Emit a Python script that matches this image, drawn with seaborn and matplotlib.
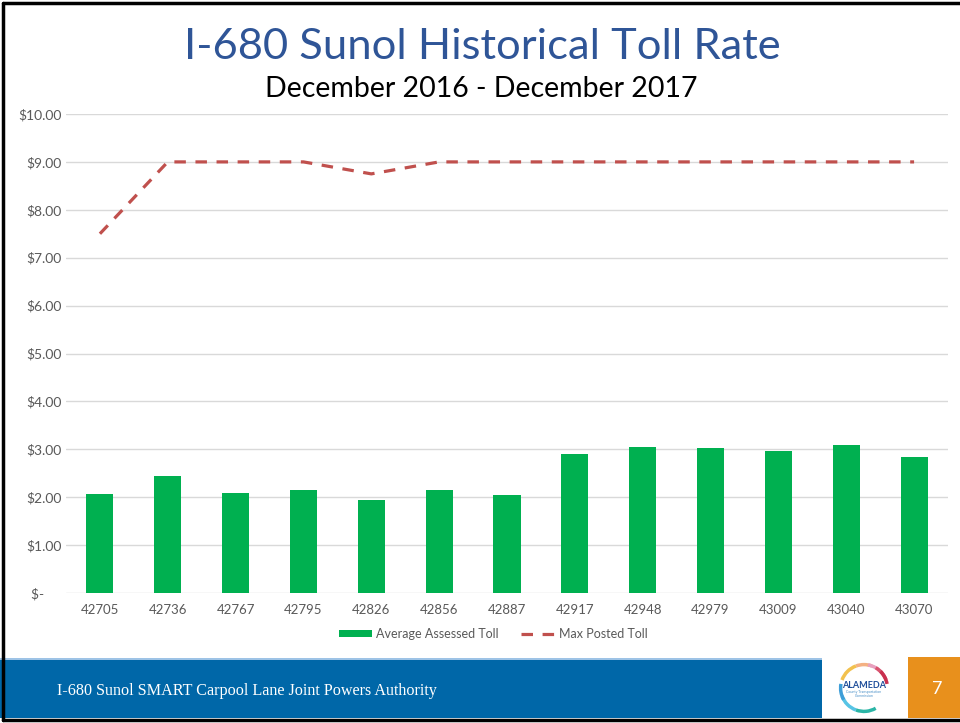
import numpy as np
import pandas as pd
import matplotlib
matplotlib.use("Agg")
import matplotlib.pyplot as plt
import seaborn as sns
from matplotlib.patches import Rectangle, Patch, Arc
from matplotlib.lines import Line2D

# ---- data ----
months = ["42705", "42736", "42767", "42795", "42826", "42856", "42887",
          "42917", "42948", "42979", "43009", "43040", "43070"]
avg_toll = [2.06, 2.45, 2.08, 2.14, 1.94, 2.14, 2.04, 2.91, 3.05, 3.03, 2.97, 3.10, 2.83]
max_toll = [7.50, 9.00, 9.00, 9.00, 8.75, 9.00, 9.00, 9.00, 9.00, 9.00, 9.00, 9.00, 9.00]
y_ticks = [0, 1, 2, 3, 4, 5, 6, 7, 8, 9, 10]
y_tick_labels = ["$-     ", "$1.00", "$2.00", "$3.00", "$4.00", "$5.00", "$6.00",
                 "$7.00", "$8.00", "$9.00", "$10.00"]
title = "I-680 Sunol Historical Toll Rate"
subtitle = "December 2016 - December 2017"
footer = "I-680 Sunol SMART Carpool Lane Joint Powers Authority"
page = "7"

sns.set_theme(style="white")
plt.rcParams['font.family'] = ['Lato', 'DejaVu Sans']
plt.rcParams['text.parse_math'] = False

GREEN = "#00B050"
RED = "#C0504D"
GRAY = "#595959"

W, H = 960, 723
fig = plt.figure(figsize=(W / 100, H / 100), dpi=100)
ax = fig.add_axes([66 / W, 1 - 593 / H, (948 - 66) / W, (593 - 114) / H])

df = pd.DataFrame({"month": months, "avg": avg_toll, "max": max_toll,
                   "pos": np.arange(len(months))})
sns.barplot(data=df, x="month", y="avg", color=GREEN, saturation=1, width=0.4,
            ax=ax, zorder=3, linewidth=0)
sns.lineplot(data=df, x="pos", y="max", color=RED, lw=2.3, ax=ax, zorder=4)
ax.lines[-1].set_dashes((3.6, 3.0))

ax.set_xlim(-0.5, len(months) - 0.5)
ax.set_ylim(0, 10)
ax.set_yticks(y_ticks)
ax.set_yticklabels(y_tick_labels)
ax.set_xlabel("")
ax.set_ylabel("")
ax.grid(axis="y", color="#D9D9D9", lw=1, zorder=0)
ax.grid(axis="x", visible=False)
for s in ax.spines.values():
    s.set_visible(False)
ax.tick_params(axis="both", length=0, colors=GRAY, labelsize=9.5)
ax.tick_params(axis="y", pad=3, labelsize=10)
ax.tick_params(axis="x", pad=8)

# legend
handles = [Patch(facecolor=GREEN, edgecolor="none"),
           Line2D([0], [0], color=RED, lw=2.3, dashes=(3.6, 3.0))]
fig.legend(handles, ["Average Assessed Toll", "Max Posted Toll"],
           loc="center", bbox_to_anchor=(493 / W, 1 - 634 / H), ncol=2,
           frameon=False, fontsize=9.0, labelcolor=GRAY, handlelength=2.7,
           handleheight=0.45, columnspacing=1.8, handletextpad=0.3)

# titles
fig.text(482 / W, 1 - 47 / H, title, ha="center", va="center",
         fontsize=31.3, color="#2F5597")
fig.text(481 / W, 1 - 89 / H, subtitle, ha="center", va="center",
         fontsize=20.5, color="black")

# footer
fig.add_artist(Rectangle((0, 1 - 718 / H), 822 / W, 60 / H, transform=fig.transFigure,
                         facecolor="#0067A8", edgecolor="none"))
fig.add_artist(Rectangle((0, 1 - 660 / H), 822 / W, 2 / H, transform=fig.transFigure,
                         facecolor="#9DC3E6", edgecolor="none"))
fig.add_artist(Rectangle((908 / W, 1 - 718 / H), 52 / W, 61 / H, transform=fig.transFigure,
                         facecolor="#E8901C", edgecolor="none"))
fig.text(57 / W, 1 - 691 / H, footer, ha="left", va="center", fontsize=11.6,
         color="white", family=["Liberation Serif"])
fig.text(937 / W, 1 - 689 / H, page, ha="center", va="center", fontsize=13,
         color="white")
# logo
fig.text(864 / W, 1 - 685 / H, "ALAMEDA", ha="center", va="center", fontsize=6.5,
         color="#1F4E9A", fontweight="bold")
fig.text(864 / W, 1 - 694 / H, "County Transportation\nCommission", ha="center",
         va="center", fontsize=2.5, color="#4A90C8", linespacing=1.0)
lax = fig.add_axes([838 / W, 1 - 714 / H, 52 / W, 52 / H])
lax.set_xlim(-1, 1)
lax.set_ylim(-1, 1)
lax.axis("off")
cols = ["#F4B183", "#E8A0BF", "#D9546E", "#C9304F", "#F2C14E", "#57C4E5", "#2BB5A6", "#3E9ED8"]
angs = [(70, 110), (40, 80), (20, 60), (10, 45), (110, 160), (200, 250), (250, 300), (170, 210)]
for c, (a1, a2) in zip(cols, angs):
    lax.add_patch(Arc((0, 0), 1.8, 1.8, theta1=a1, theta2=a2, color=c, lw=2.5))

# slide border
fig.add_artist(Line2D([3 / W, 3 / W], [1 - 720 / H, 1 - 3 / H], transform=fig.transFigure,
                      color="black", lw=2.5))
fig.add_artist(Line2D([3 / W, 1], [1 - 3 / H, 1 - 3 / H], transform=fig.transFigure,
                      color="black", lw=2.5))
fig.add_artist(Line2D([3 / W, 1], [1 - 720 / H, 1 - 720 / H], transform=fig.transFigure,
                      color="black", lw=2.5))

fig.savefig("out.png", dpi=100, facecolor="white")
